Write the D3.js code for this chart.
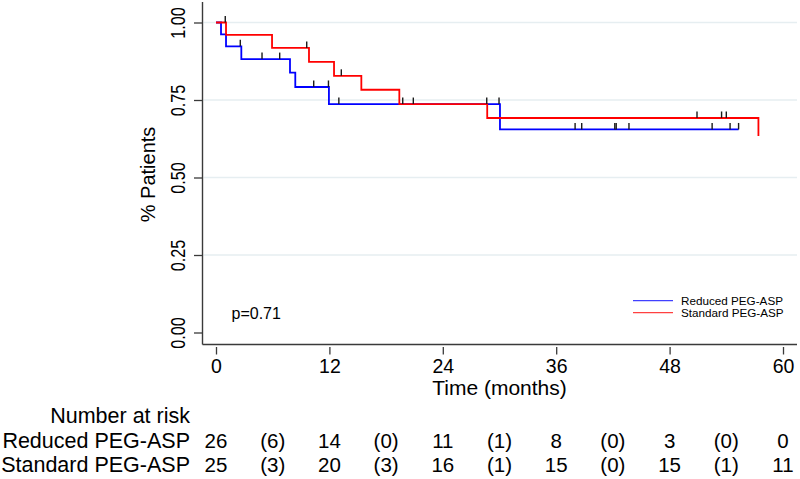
<!DOCTYPE html>
<html>
<head>
<meta charset="utf-8">
<script src="https://cdn.jsdelivr.net/npm/d3@7"></script>
<style>
  html, body { margin: 0; padding: 0; background: #fff; }
  svg { display: block; font-family: "Liberation Sans", Arial, Helvetica, sans-serif; }
</style>
</head>
<body>
<svg id="chart" width="800" height="479"></svg>
<script>
// ---------- data ----------
const timeTicks = [0, 12, 24, 36, 48, 60];
const survTicks = [0, 0.25, 0.5, 0.75, 1];
const survTickLabels = ["0.00", "0.25", "0.50", "0.75", "1.00"];

const groups = ["Reduced PEG-ASP", "Standard PEG-ASP"];
const groupColors = ["#0000ff", "#ff0000"];

// Kaplan-Meier steps: time of change and survival after it
const reducedTimes = [0, 0.53, 1.06, 2.68, 7.83, 8.39, 11.95, 30.05, 55.3];
const reducedSurv  = [1, 0.962, 0.923, 0.882, 0.838, 0.792, 0.737, 0.655, 0.655];
const standardTimes = [0, 1.06, 5.93, 9.84, 12.49, 15.38, 19.4, 28.7, 57.4];
const standardSurv  = [1, 0.96, 0.918, 0.873, 0.828, 0.783, 0.737, 0.692, 0.634];

// censoring times
const reducedCensor = [2.57, 4.87, 6.74, 10.34, 11.9, 13.0, 19.76, 20.88, 28.65, 29.95,
                       38.0, 38.7, 42.2, 42.35, 43.7, 52.5, 54.4, 55.3];
const standardCensor = [0.98, 9.6, 13.26, 50.9, 53.5, 54.0];

// number-at-risk table
const riskTimes = [0, 6, 12, 18, 24, 30, 36, 42, 48, 54, 60];
const reducedRisk = ["26", "(6)", "14", "(0)", "11", "(1)", "8", "(0)", "3", "(0)", "0"];
const standardRisk = ["25", "(3)", "20", "(3)", "16", "(1)", "15", "(0)", "15", "(1)", "11"];

const pValueText = "p=0.71";

// ---------- drawing ----------
const svg = d3.select("#chart");
const x = d3.scaleLinear().domain([0, 60]).range([216, 783]);
const y = d3.scaleLinear().domain([0, 1]).range([332.5, 22.5]);

const axisColor = "#3a3a3a";
const plotLeft = 202.5, plotRight = 797, plotBottom = 344.5, plotTop = 2;

// gridlines
svg.append("g").selectAll("line")
  .data(survTicks.filter(d => d > 0))
  .join("line")
  .attr("x1", plotLeft + 1).attr("x2", plotRight)
  .attr("y1", d => y(d)).attr("y2", d => y(d))
  .attr("stroke", "#e6eef1").attr("stroke-width", 1.3);

// y axis
const yAxis = d3.axisLeft(y).tickValues(survTicks).tickSize(8.5)
  .tickFormat((d, i) => survTickLabels[i]);
const gy = svg.append("g").attr("transform", `translate(${plotLeft},0)`).call(yAxis);
gy.select(".domain").remove();
gy.selectAll(".tick line").attr("stroke", axisColor).attr("stroke-width", 1.3);
gy.selectAll(".tick text").remove();
gy.selectAll(".tick").append("text")
  .attr("transform", "translate(-17.5,0) rotate(-90)")
  .attr("text-anchor", "middle")
  .attr("fill", "#000")
  .attr("font-size", 19.5)
  .attr("textLength", 31.5)
  .attr("lengthAdjust", "spacingAndGlyphs")
  .text((d, i) => survTickLabels[i]);
svg.append("line")
  .attr("x1", plotLeft).attr("x2", plotLeft)
  .attr("y1", plotTop).attr("y2", plotBottom)
  .attr("stroke", axisColor).attr("stroke-width", 1.4);

// x axis
const xAxis = d3.axisBottom(x).tickValues(timeTicks).tickSize(7.5).tickPadding(0);
const gx = svg.append("g").attr("transform", `translate(0,${plotBottom + 2.5})`).call(xAxis);
gx.select(".domain").remove();
gx.selectAll(".tick line").attr("stroke", axisColor).attr("stroke-width", 1.3);
gx.selectAll(".tick text")
  .attr("font-size", 19.5).attr("fill", "#000")
  .attr("font-family", "'Liberation Sans', Arial, sans-serif")
  .attr("dy", null).attr("y", 373 - plotBottom - 2.5);
svg.append("line")
  .attr("x1", plotLeft).attr("x2", plotRight)
  .attr("y1", plotBottom).attr("y2", plotBottom)
  .attr("stroke", axisColor).attr("stroke-width", 1.4);

// axis titles
svg.append("text")
  .attr("transform", `translate(155,174.5) rotate(-90)`)
  .attr("text-anchor", "middle").attr("font-size", 20).attr("fill", "#000")
  .text("% Patients");
svg.append("text")
  .attr("x", x(30)).attr("y", 395)
  .attr("text-anchor", "middle").attr("font-size", 21).attr("fill", "#000")
  .text("Time (months)");

// survival curves
const line = d3.line().x(d => x(d[0])).y(d => y(d[1])).curve(d3.curveStepAfter);
const curves = [
  { times: reducedTimes, surv: reducedSurv, censor: reducedCensor, color: groupColors[0] },
  { times: standardTimes, surv: standardSurv, censor: standardCensor, color: groupColors[1] }
];
curves.forEach(c => {
  const pts = c.times.map((t, i) => [t, c.surv[i]]);
  svg.append("path").datum(pts)
    .attr("d", line)
    .attr("fill", "none").attr("stroke", c.color).attr("stroke-width", 1.8);
});
function levelAt(c, t) {
  let s = c.surv[0];
  for (let i = 0; i < c.times.length; i++) if (c.times[i] <= t) s = c.surv[i];
  return s;
}
curves.forEach(c => {
  svg.append("g").selectAll("line")
    .data(c.censor)
    .join("line")
    .attr("x1", d => x(d)).attr("x2", d => x(d))
    .attr("y1", d => y(levelAt(c, d))).attr("y2", d => y(levelAt(c, d)) - 6.5)
    .attr("stroke", "#1a1a1a").attr("stroke-width", 1.4);
});

// p value
svg.append("text").attr("x", 231.5).attr("y", 319)
  .attr("font-size", 16).attr("fill", "#000").text(pValueText);

// legend
const leg = svg.append("g");
groups.forEach((g, i) => {
  const ly = 300.7 + i * 12;
  leg.append("line").attr("x1", 633).attr("x2", 673).attr("y1", ly).attr("y2", ly)
    .attr("stroke", groupColors[i]).attr("stroke-width", 1.2).attr("stroke-opacity", 0.75);
  leg.append("text").attr("x", 681).attr("y", ly + 4.3)
    .attr("font-size", 11.7).attr("fill", "#000").text(g);
});

// number at risk table
svg.append("text").attr("x", 190).attr("y", 423)
  .attr("text-anchor", "end").attr("font-size", 21.5).attr("fill", "#000")
  .text("Number at risk");
[reducedRisk, standardRisk].forEach((row, r) => {
  const by = r === 0 ? 448 : 472;
  svg.append("text").attr("x", 190).attr("y", by)
    .attr("text-anchor", "end").attr("font-size", 21.5).attr("fill", "#000")
    .text(groups[r]);
  svg.append("g").selectAll("text")
    .data(row)
    .join("text")
    .attr("x", (d, i) => x(riskTimes[i]))
    .attr("y", by)
    .attr("text-anchor", "middle").attr("font-size", 20.5).attr("fill", "#000")
    .text(d => d);
});
</script>
</body>
</html>
